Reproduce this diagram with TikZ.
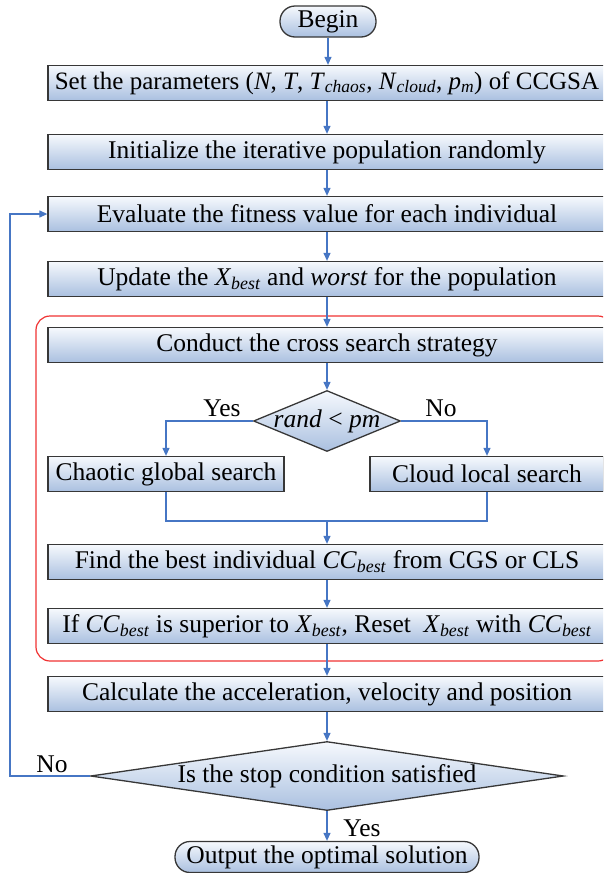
\documentclass[tikz,border=0pt]{standalone}
\usepackage{fontspec}
\setmainfont{Liberation Serif}
\usetikzlibrary{shapes.geometric,arrows.meta,shadings}
\definecolor{flowblue}{RGB}{70,118,196}
\definecolor{boxtop}{RGB}{246,249,253}
\definecolor{boxbot}{RGB}{170,192,224}
\definecolor{boxline}{RGB}{55,55,55}
\definecolor{groupred}{RGB}{240,50,50}
\newcommand\isub[2]{\textit{#1}\textsubscript{\textit{#2}}}
\tikzset{
  procbox/.style={draw=boxline, line width=1.3pt, top color=boxtop, bottom color=boxbot,
    minimum height=35pt, inner sep=0pt, font=\fontsize{25.5}{29}\selectfont},
  widebox/.style={procbox, minimum width=558pt},
  pill/.style={procbox, rounded corners=15pt, minimum height=31pt},
  decision/.style={diamond, draw=boxline, line width=1.3pt, top color=boxtop, bottom color=boxbot, inner sep=0pt},
  flow/.style={draw=flowblue, line width=1.2pt},
  flowarrow/.style={flow, -{Triangle[length=8pt,width=7pt]}},
  lbl/.style={font=\fontsize{25.5}{29}\selectfont, inner sep=0pt},
  grouprect/.style={draw=groupred, line width=1.2pt, rounded corners=14pt}
}
\begin{document}
\begin{tikzpicture}[x=1pt,y=-1pt]
\useasboundingbox (0,0) rectangle (603,873);
\clip (0,0) rectangle (603,873);
\draw[grouprect] (36,316) rectangle (612,661);

\node[pill, minimum width=96pt] (begin) at (328,21.5) {Begin};
\node[widebox, font=\fontsize{25}{29}\selectfont] (b1) at (327,83) {Set the parameters (\textit{N}, \textit{T}, \isub{T}{chaos}, \isub{N}{cloud}, \isub{p}{m}) of CCGSA};
\node[widebox] (b2) at (327,152) {Initialize the iterative population randomly};
\node[widebox] (b3) at (327,214) {Evaluate the fitness value for each individual};
\node[widebox] (b4) at (327,279) {Update the \isub{X}{best} and \textit{worst} for the population};
\node[widebox] (b5) at (327,345) {Conduct the cross search strategy};
\node[decision, minimum width=147pt, minimum height=61pt] (d1) at (327,421) {};
\node[lbl] (d1t) at (d1) {\textit{rand} < \textit{pm}};
\node[procbox, minimum width=236pt] (cgs) at (166,474) {Chaotic global search};
\node[procbox, minimum width=234pt] (cls) at (487,474) {Cloud local search};
\coordinate (merge) at (327,521);
\node[widebox] (b6) at (327,562) {Find the best individual \isub{CC}{best} from CGS or CLS};
\node[widebox] (b7) at (327,626) {If \isub{CC}{best} is superior to \isub{X}{best}, Reset\enspace\isub{X}{best} with \isub{CC}{best}};
\node[widebox] (b8) at (327,694) {Calculate the acceleration, velocity and position};
\node[decision, minimum width=473pt, minimum height=69pt] (d2) at (327,776) {};
\node[lbl] (d2t) at (d2) {Is the stop condition satisfied};
\node[pill, minimum width=304pt] (out) at (327,857) {Output the optimal solution};
\coordinate (loopb) at (10,776);
\coordinate (loopt) at (10,214);

\node[lbl] (yes1) at (222,408) {Yes};
\node[lbl] (no1) at (441,408) {No};
\node[lbl] (no2) at (52,764) {No};
\node[lbl] (yes2) at (362,828) {Yes};

\draw[flowarrow] (begin) -- (begin |- b1.north);
\draw[flowarrow] (b1) -- (b2);
\draw[flowarrow] (b2) -- (b3);
\draw[flowarrow] (b3) -- (b4);
\draw[flowarrow] (b4) -- (b5);
\draw[flowarrow] (b5) -- (d1);
\draw[flowarrow] (d1.west) -| (cgs.north);
\draw[flowarrow] (d1.east) -| (cls.north);
\draw[flow] (cgs.south) |- (merge) -| (cls.south);
\draw[flowarrow] (merge) -- (b6);
\draw[flowarrow] (b6) -- (b7);
\draw[flowarrow] (b7) -- (b8);
\draw[flowarrow] (b8) -- (d2);
\draw[flowarrow] (d2) -- (out);
\draw[flowarrow] (d2.west) -- (loopb) -- (loopt) -- (b3.west);
\end{tikzpicture}
\end{document}
